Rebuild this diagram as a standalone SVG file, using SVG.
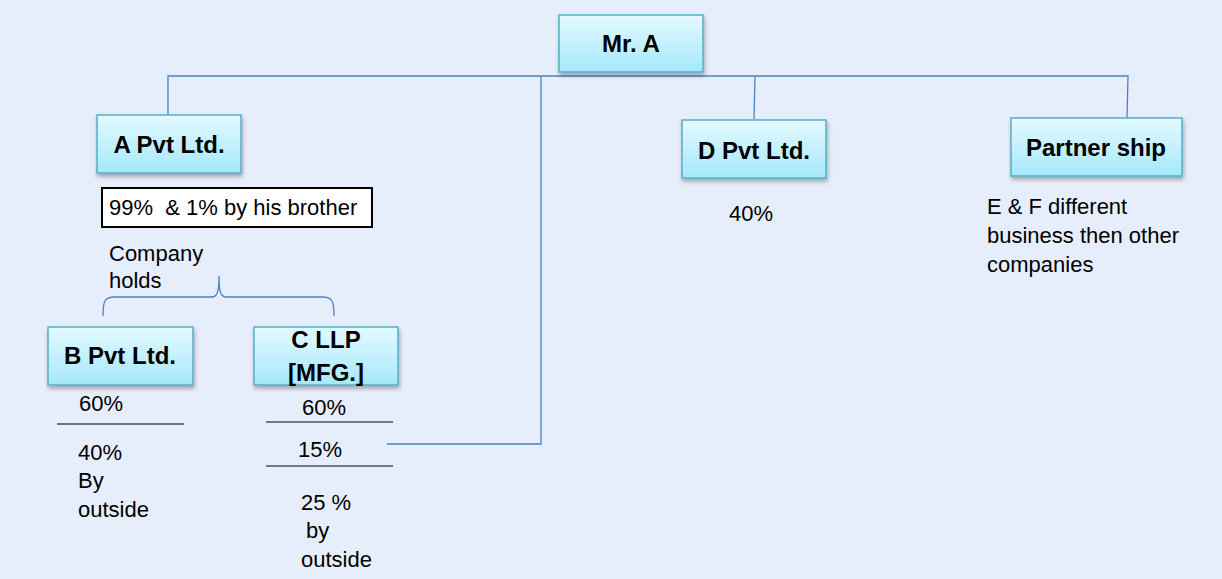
<svg xmlns="http://www.w3.org/2000/svg" width="1222" height="579" viewBox="0 0 1222 579">
<defs>
<linearGradient id="boxg" x1="0" y1="0" x2="0" y2="1">
<stop offset="0" stop-color="#E4FAFF"/>
<stop offset="1" stop-color="#A4E8FB"/>
</linearGradient>
<filter id="sh" x="-10%" y="-10%" width="125%" height="135%">
<feDropShadow dx="1" dy="3" stdDeviation="2" flood-color="#000" flood-opacity="0.3"/>
</filter>
<style>
.box{fill:url(#boxg);stroke:#55AFC8;stroke-width:1.5;filter:url(#sh)}
.lbl{font-family:"Liberation Sans",Arial,sans-serif;font-weight:bold;font-size:24px;fill:#000;text-anchor:middle}
.t{font-family:"Liberation Sans",Arial,sans-serif;font-size:22px;fill:#000}
.conn{fill:none;stroke:#4F81BD;stroke-width:1.3}
.rule{stroke:#000;stroke-width:1.2}
</style>
</defs>
<rect x="0" y="0" width="1222" height="579" fill="#E6EEFB"/>
<g id="connectors">
<path class="conn" d="M168,115 L168,76 L1128,76 L1127,118"/>
<path class="conn" d="M755,76 L754,119"/>
<path class="conn" d="M541,76 L541,444 L387,444"/>
<path class="conn" d="M103,316 C103,300 105,297 115,297 L212,297 C217,297 219,292 219,276 C219,292 221,297 226,297 L322,297 C332,297 334,300 334,316"/>
</g>
<g id="mrA">
<rect class="box" x="559" y="15" width="144" height="57"/>
<text class="lbl" x="631" y="52">Mr. A</text>
</g>
<g id="aPvt">
<rect class="box" x="97" y="115" width="144" height="58"/>
<text class="lbl" x="169" y="153">A Pvt Ltd.</text>
</g>
<g id="aNote">
<rect x="102" y="188" width="270" height="39" fill="#fff" stroke="#000" stroke-width="2"/>
<text class="t" x="109" y="215" xml:space="preserve">99%  &amp; 1% by his brother</text>
</g>
<g id="companyHolds">
<text class="t" x="109" y="261">Company</text>
<text class="t" x="109" y="288">holds</text>
</g>
<g id="bPvt">
<rect class="box" x="48" y="327" width="145" height="58"/>
<text class="lbl" x="120" y="364">B Pvt Ltd.</text>
<text class="t" x="79" y="411">60%</text>
<line class="rule" x1="57" y1="424" x2="184" y2="424"/>
<text class="t" x="78" y="460">40%</text>
<text class="t" x="78" y="488">By</text>
<text class="t" x="78" y="517">outside</text>
</g>
<g id="cLLP">
<rect class="box" x="254" y="327" width="144" height="58"/>
<text class="lbl" x="326" y="348">C LLP</text>
<text class="lbl" x="326" y="381">[MFG.]</text>
<text class="t" x="302" y="415">60%</text>
<line class="rule" x1="266" y1="422" x2="393" y2="422"/>
<text class="t" x="298" y="457">15%</text>
<line class="rule" x1="266" y1="466" x2="393" y2="466"/>
<text class="t" x="301" y="510">25 %</text>
<text class="t" x="306" y="538">by</text>
<text class="t" x="301" y="567">outside</text>
</g>
<g id="dPvt">
<rect class="box" x="682" y="120" width="144" height="58"/>
<text class="lbl" x="754" y="159">D Pvt Ltd.</text>
<text class="t" x="729" y="221">40%</text>
</g>
<g id="partnership">
<rect class="box" x="1011" y="118" width="171" height="58"/>
<text class="lbl" x="1096" y="156">Partner ship</text>
<text class="t" x="987" y="214">E &amp; F different</text>
<text class="t" x="987" y="243">business then other</text>
<text class="t" x="987" y="272">companies</text>
</g>
</svg>
